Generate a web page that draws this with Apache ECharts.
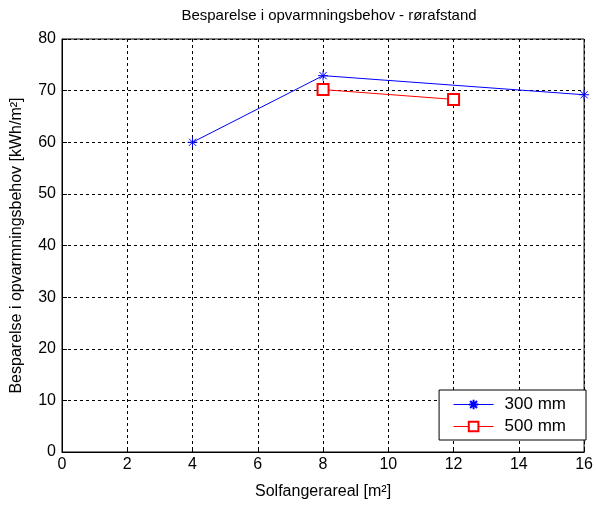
<!DOCTYPE html>
<html lang="da">
<head>
<meta charset="UTF-8">
<title>Besparelse i opvarmningsbehov - rørafstand</title>
<script src="https://cdn.jsdelivr.net/npm/echarts@6/dist/echarts.min.js"></script>
<style>
  * { margin: 0; padding: 0; }
  #chart { width: 596px; height: 505px; background: #fff; }
</style>
</head>
<body>
<div id="chart"></div>
<script>
// data
const area300 = [4, 8, 16];
const value300 = [60, 72.9, 69.2];
const area500 = [8, 12];
const value500 = [70.2, 68.3];
const xTicks = [0, 2, 4, 6, 8, 10, 12, 14, 16];
const yTicks = [0, 10, 20, 30, 40, 50, 60, 70, 80];

const font = 'Liberation Sans, Arial, sans-serif';
const star = 'path://M0,-5L0,5M-5,0L5,0M-3.6,-3.6L3.6,3.6M-3.6,3.6L3.6,-3.6';

const chart = echarts.init(document.getElementById('chart'));
chart.setOption({
  backgroundColor: '#fff',
  animation: false,
  title: {
    text: 'Besparelse i opvarmningsbehov - rørafstand',
    left: 324, top: 3, textAlign: 'center',
    textStyle: { fontFamily: font, fontSize: 15, fontWeight: 'normal', color: '#000' }
  },
  grid: { left: 62, right: 9, top: 39, bottom: 53, show: true, borderColor: '#000', borderWidth: 1 },
  legend: {
    right: 10, top: 390, orient: 'vertical',
    backgroundColor: '#fff', borderColor: '#000', borderWidth: 1,
    padding: [6, 20, 5, 14], itemGap: 5, itemWidth: 40, itemHeight: 12,
    lineStyle: { width: 1 },
    textStyle: { fontFamily: font, fontSize: 17, color: '#000', padding: [0, 0, 0, 6] },
    data: ['300 mm', '500 mm']
  },
  xAxis: {
    type: 'value', min: xTicks[0], max: xTicks[xTicks.length - 1], interval: 2,
    name: 'Solfangerareal [m²]', nameLocation: 'middle', nameGap: 32,
    nameTextStyle: { fontFamily: font, fontSize: 16, color: '#000' },
    axisLine: { lineStyle: { color: '#000' } },
    axisTick: { inside: true, length: 5, lineStyle: { color: '#000' } },
    axisLabel: { fontFamily: font, fontSize: 16, color: '#000', margin: 5 },
    splitLine: { lineStyle: { color: '#000', type: [3, 3], width: 1 } }
  },
  yAxis: {
    type: 'value', min: yTicks[0], max: yTicks[yTicks.length - 1], interval: 10,
    name: 'Besparelse i opvarmningsbehov [kWh/m²]', nameLocation: 'middle', nameGap: 37,
    nameTextStyle: { fontFamily: font, fontSize: 16, color: '#000' },
    axisLine: { lineStyle: { color: '#000' } },
    axisTick: { inside: true, length: 5, lineStyle: { color: '#000' } },
    axisLabel: { fontFamily: font, fontSize: 16, color: '#000', margin: 6 },
    splitLine: { lineStyle: { color: '#000', type: [3, 3], width: 1 } }
  },
  series: [
    {
      name: '300 mm', type: 'line',
      data: area300.map((x, i) => [x, value300[i]]),
      symbol: star, symbolSize: 10,
      lineStyle: { color: '#0000ff', width: 1 },
      itemStyle: { color: '#0000ff', borderColor: '#0000ff', borderWidth: 1 }
    },
    {
      name: '500 mm', type: 'line',
      data: area500.map((x, i) => [x, value500[i]]),
      symbol: 'emptyRect', symbolSize: 11,
      lineStyle: { color: '#ff0000', width: 1 },
      itemStyle: { color: '#ff0000', borderColor: '#ff0000', borderWidth: 1 }
    }
  ]
});
</script>
</body>
</html>
